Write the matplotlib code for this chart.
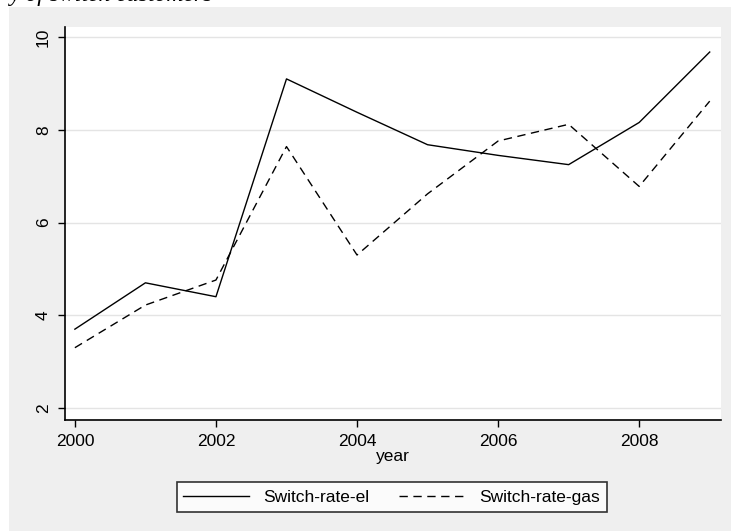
import numpy as np
import matplotlib
matplotlib.use("Agg")
import matplotlib.pyplot as plt

# switching rates per year, electricity and gas
years = [2000, 2001, 2002, 2003, 2004, 2005, 2006, 2007, 2008, 2009]
rate_el = [3.7, 4.7, 4.4, 9.1, 8.38, 7.68, 7.45, 7.25, 8.16, 9.68]
rate_gas = [3.3, 4.22, 4.76, 7.64, 5.3, 6.62, 7.76, 8.12, 6.78, 8.62]

x_ticks = [2000, 2002, 2004, 2006, 2008]
y_ticks = [2, 4, 6, 8, 10]

plt.rcParams['font.family'] = ['Liberation Sans', 'DejaVu Sans']
fs = 12.5

fig = plt.figure(figsize=(7.31, 5.31), dpi=100)
fig.patch.set_facecolor('white')

# grey graph region behind the plot
fig.patches.append(plt.Rectangle((9 / 731, 0), 1, 1 - 7 / 531,
                                 transform=fig.transFigure,
                                 facecolor='#efefef', edgecolor='none', zorder=-10))

# caption of the page above, cut off by the frame
fig.text(10 / 731, 1 - 1 / 531, 'y of switch customers', family='Liberation Serif',
         style='italic', fontsize=17, va='baseline', ha='left')

ax = fig.add_axes([65 / 731, 1 - 420 / 531, 656 / 731, 393 / 531])
ax.set_facecolor('white')

ax.plot(years, rate_el, color='black', lw=1.0, label='Switch-rate-el')
ax.plot(years, rate_gas, color='black', lw=1.0, dashes=(6, 4), label='Switch-rate-gas')

ax.set_xlim(1999.86, 2009.16)
ax.set_ylim(1.74, 10.22)
ax.set_xticks(x_ticks)
ax.set_yticks(y_ticks)
ax.set_yticklabels([str(v) for v in y_ticks], rotation=90, va='center')

ax.grid(axis='y', color='#e4e4e4', lw=1.0)
ax.set_axisbelow(True)
for side in ['top', 'right']:
    ax.spines[side].set_visible(False)
for side in ['left', 'bottom']:
    ax.spines[side].set_linewidth(1.2)
ax.tick_params(axis='both', length=5, width=1.0, labelsize=fs)
ax.tick_params(axis='x', pad=5)
ax.tick_params(axis='y', pad=5)

ax.set_xlabel('year', fontsize=fs, labelpad=0)

leg = fig.legend(loc='center', bbox_to_anchor=(391.5 / 731, 1 - 497 / 531), ncol=2,
                 fontsize=fs, frameon=True, fancybox=False, handlelength=3.8,
                 columnspacing=1.7, handletextpad=0.8, borderpad=0.4,
                 borderaxespad=0)
leg.get_frame().set_edgecolor('black')
leg.get_frame().set_linewidth(1.2)

fig.savefig('out.png', dpi=100)
